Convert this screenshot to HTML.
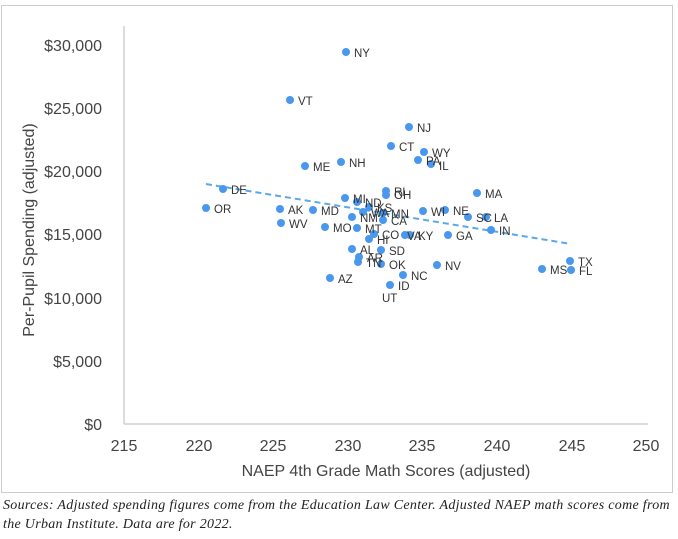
<!DOCTYPE html>
<html><head><meta charset="utf-8"><style>
body{margin:0;background:#fff;width:678px;height:539px;overflow:hidden}
svg{position:absolute;left:0;top:0}
.cap{position:absolute;left:3px;top:496px;font-family:"Liberation Serif",serif;font-style:italic;font-size:14px;line-height:19px;color:#222;width:675px;white-space:nowrap;letter-spacing:0.3px}
</style></head><body>
<svg width="678" height="539" font-family="Liberation Sans, sans-serif">
<rect x="1.5" y="5.5" width="671" height="487" fill="#fff" stroke="#ccc"/>
<line x1="124" y1="26" x2="124" y2="424" stroke="#d0d0d0" stroke-width="1.5"/>
<line x1="124" y1="424" x2="648" y2="424" stroke="#d0d0d0" stroke-width="1.5"/>
<g font-size="16" fill="#444" text-anchor="end">
<text x="102" y="51">$30,000</text><text x="102" y="114">$25,000</text><text x="102" y="177">$20,000</text>
<text x="102" y="240">$15,000</text><text x="102" y="304">$10,000</text><text x="102" y="367">$5,000</text><text x="102" y="430">$0</text>
</g>
<g font-size="16" fill="#444" text-anchor="middle">
<text x="124" y="451">215</text><text x="199" y="451">220</text><text x="273" y="451">225</text><text x="348" y="451">230</text>
<text x="422" y="451">235</text><text x="497" y="451">240</text><text x="572" y="451">245</text><text x="646" y="451">250</text>
<text x="386" y="476">NAEP 4th Grade Math Scores (adjusted)</text>
<text transform="translate(34,230) rotate(-90)">Per-Pupil Spending (adjusted)</text>
</g>
<line x1="206" y1="184" x2="571" y2="244" stroke="#5aa8e8" stroke-width="2" stroke-dasharray="6,4"/>
<g fill="#4a97ee">
<circle cx="346" cy="52" r="4"/><circle cx="290" cy="100" r="4"/><circle cx="409" cy="127" r="4"/><circle cx="391" cy="146" r="4"/>
<circle cx="424" cy="152" r="4"/><circle cx="418" cy="160" r="4"/><circle cx="431" cy="164" r="4"/><circle cx="305" cy="166" r="4"/>
<circle cx="341" cy="162" r="4"/><circle cx="477" cy="193" r="4"/><circle cx="223" cy="189" r="4"/><circle cx="386" cy="191" r="4"/>
<circle cx="386" cy="195" r="4"/><circle cx="206" cy="208" r="4"/><circle cx="345" cy="198" r="4"/><circle cx="357" cy="202" r="4"/>
<circle cx="369" cy="207" r="4"/><circle cx="280" cy="209" r="4"/><circle cx="313" cy="210" r="4"/><circle cx="363" cy="212" r="4"/>
<circle cx="383" cy="213" r="4"/><circle cx="423" cy="211" r="4"/><circle cx="445" cy="210" r="4"/><circle cx="468" cy="217" r="4"/>
<circle cx="486" cy="217" r="4"/><circle cx="352" cy="217" r="4"/><circle cx="383" cy="220" r="4"/><circle cx="281" cy="223" r="4"/>
<circle cx="325" cy="227" r="4"/><circle cx="357" cy="228" r="4"/><circle cx="491" cy="230" r="4"/><circle cx="374" cy="234" r="4"/>
<circle cx="405" cy="235" r="4"/><circle cx="410" cy="235" r="4"/><circle cx="448" cy="235" r="4"/><circle cx="369" cy="239" r="4"/>
<circle cx="352" cy="249" r="4"/><circle cx="381" cy="250" r="4"/><circle cx="359" cy="257" r="4"/><circle cx="358" cy="262" r="4"/>
<circle cx="381" cy="264" r="4"/><circle cx="437" cy="265" r="4"/><circle cx="570" cy="261" r="4"/><circle cx="542" cy="269" r="4"/>
<circle cx="571" cy="270" r="4"/><circle cx="403" cy="275" r="4"/><circle cx="330" cy="278" r="4"/><circle cx="390" cy="285" r="4"/>
</g>
<g font-size="11.5" fill="#333">
<text x="354" y="57">NY</text><text x="298" y="105">VT</text><text x="417" y="132">NJ</text><text x="399" y="151">CT</text>
<text x="432" y="157">WY</text><text x="426" y="165">PA</text><text x="439" y="170">IL</text><text x="313" y="171">ME</text>
<text x="349" y="167">NH</text><text x="485" y="198">MA</text><text x="231" y="194">DE</text><text x="394" y="196">RI</text>
<text x="394" y="199">OH</text><text x="214" y="213">OR</text><text x="353" y="203">MI</text><text x="365" y="207">ND</text>
<text x="377" y="212">KS</text><text x="288" y="214">AK</text><text x="321" y="215">MD</text><text x="371" y="217">WA</text>
<text x="391" y="218">MN</text><text x="431" y="216">WI</text><text x="453" y="215">NE</text><text x="476" y="222">SC</text>
<text x="494" y="222">LA</text><text x="360" y="222">NM</text><text x="391" y="225">CA</text><text x="289" y="228">WV</text>
<text x="333" y="232">MO</text><text x="365" y="233">MT</text><text x="499" y="235">IN</text><text x="382" y="239">CO</text>
<text x="407" y="240">VA</text><text x="418" y="240">KY</text><text x="456" y="240">GA</text><text x="377" y="244">HI</text>
<text x="360" y="254">AL</text><text x="389" y="255">SD</text><text x="367" y="262">AR</text><text x="366" y="267">TN</text>
<text x="389" y="269">OK</text><text x="445" y="270">NV</text><text x="578" y="266">TX</text><text x="550" y="274">MS</text>
<text x="579" y="275">FL</text><text x="411" y="280">NC</text><text x="338" y="283">AZ</text><text x="398" y="290">ID</text>
<text x="382" y="302">UT</text>
</g>
</svg>
<div class="cap">Sources: Adjusted spending figures come from the Education Law Center. Adjusted NAEP math scores come from<br>the Urban Institute. Data are for 2022.</div>
</body></html>
